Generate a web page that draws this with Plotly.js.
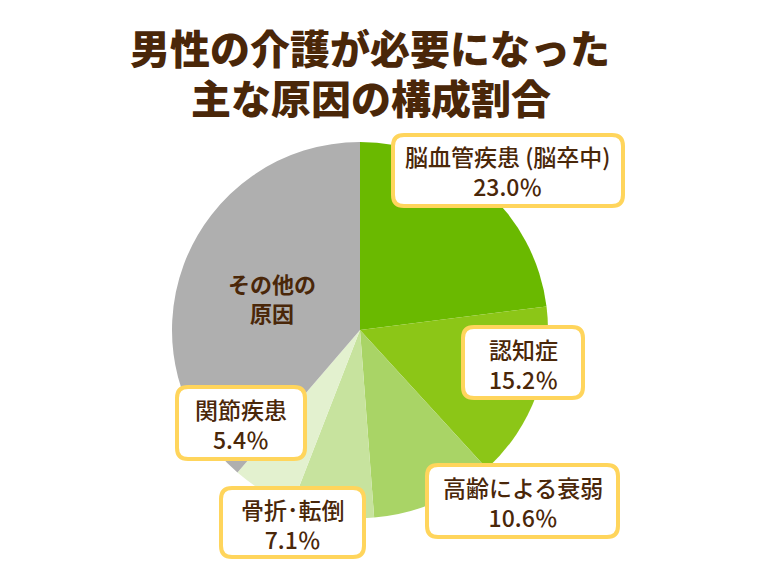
<!DOCTYPE html>
<html>
<head>
<meta charset="utf-8">
<script src="https://cdn.plot.ly/plotly-3.0.1.min.js"></script>
<style>
  html, body { margin: 0; padding: 0; background: #fff; }
  #chart { width: 760px; height: 570px; }
</style>
</head>
<body>
<div id="chart"></div>
<script>
// data
var causes = ['脳血管疾患 (脳卒中)', '認知症', '高齢による衰弱', '骨折･転倒', '関節疾患', 'その他の原因'];
var shares = [23.0, 15.2, 10.6, 7.1, 5.4, 38.7];
var sliceColors = ['#6ab900', '#8cc617', '#a9d466', '#c7e39e', '#e3f1cf', '#afafaf'];
var titleLines = ['男性の介護が必要になった', '主な原因の構成割合'];

var W = 760, H = 570;
var brown = '#4a2709';
var jp = '"Noto Sans CJK JP", "Noto Sans", sans-serif';

// label boxes (pixels): x0, y0, x1, y1
var boxes = [
  [393, 135, 623, 206],
  [463, 327, 583, 398],
  [427, 465, 618, 537],
  [221, 488, 364, 557],
  [177, 387, 305, 459]
];

function px(x) { return x / W; }
function py(y) { return 1 - y / H; }

function roundRect(b, r) {
  var x0 = b[0], y0 = b[1], x1 = b[2], y1 = b[3];
  var p = [
    'M', px(x0 + r), py(y0),
    'L', px(x1 - r), py(y0),
    'Q', px(x1), py(y0), px(x1), py(y0 + r),
    'L', px(x1), py(y1 - r),
    'Q', px(x1), py(y1), px(x1 - r), py(y1),
    'L', px(x0 + r), py(y1),
    'Q', px(x0), py(y1), px(x0), py(y1 - r),
    'L', px(x0), py(y0 + r),
    'Q', px(x0), py(y0), px(x0 + r), py(y0),
    'Z'
  ];
  return p.join(' ');
}

var shapes = boxes.map(function (b) {
  return {
    type: 'path', xref: 'paper', yref: 'paper', layer: 'above',
    path: roundRect(b, 11),
    fillcolor: '#ffffff',
    line: {color: '#ffd55c', width: 4}
  };
});

var annotations = boxes.map(function (b, i) {
  return {
    xref: 'paper', yref: 'paper',
    x: px((b[0] + b[2]) / 2), y: py((b[1] + b[3]) / 2 + 1),
    xanchor: 'center', yanchor: 'middle', showarrow: false,
    text: causes[i] + '<br>' + shares[i].toFixed(1) + '％',
    font: {family: jp, size: 23, color: brown, weight: 500}
  };
});

// label inside the grey slice
annotations.push({
  xref: 'paper', yref: 'paper', x: px(272), y: py(297),
  xanchor: 'center', yanchor: 'middle', showarrow: false,
  text: 'その他の<br>原因',
  font: {family: jp, size: 22, color: brown, weight: 700}
});

// second title line
annotations.push({
  xref: 'paper', yref: 'paper', x: px(371), y: py(97),
  xanchor: 'center', yanchor: 'middle', showarrow: false,
  text: titleLines[1],
  font: {family: jp, size: 40, color: brown, weight: 900}
});

var pie = {
  type: 'pie',
  values: shares,
  labels: causes,
  marker: {colors: sliceColors, line: {width: 0}},
  sort: false,
  direction: 'clockwise',
  rotation: 0,
  textinfo: 'none',
  hoverinfo: 'none',
  domain: {x: [px(172), px(548)], y: [py(518), py(142)]}
};

var layout = {
  width: W, height: H,
  margin: {l: 0, r: 0, t: 0, b: 0},
  showlegend: false,
  paper_bgcolor: '#ffffff',
  title: {
    text: titleLines[0],
    x: px(370), xanchor: 'center', y: py(50), yanchor: 'middle',
    font: {family: jp, size: 40, color: brown, weight: 900}
  },
  shapes: shapes,
  annotations: annotations
};

Plotly.newPlot('chart', [pie], layout, {displayModeBar: false, staticPlot: true});
</script>
</body>
</html>
